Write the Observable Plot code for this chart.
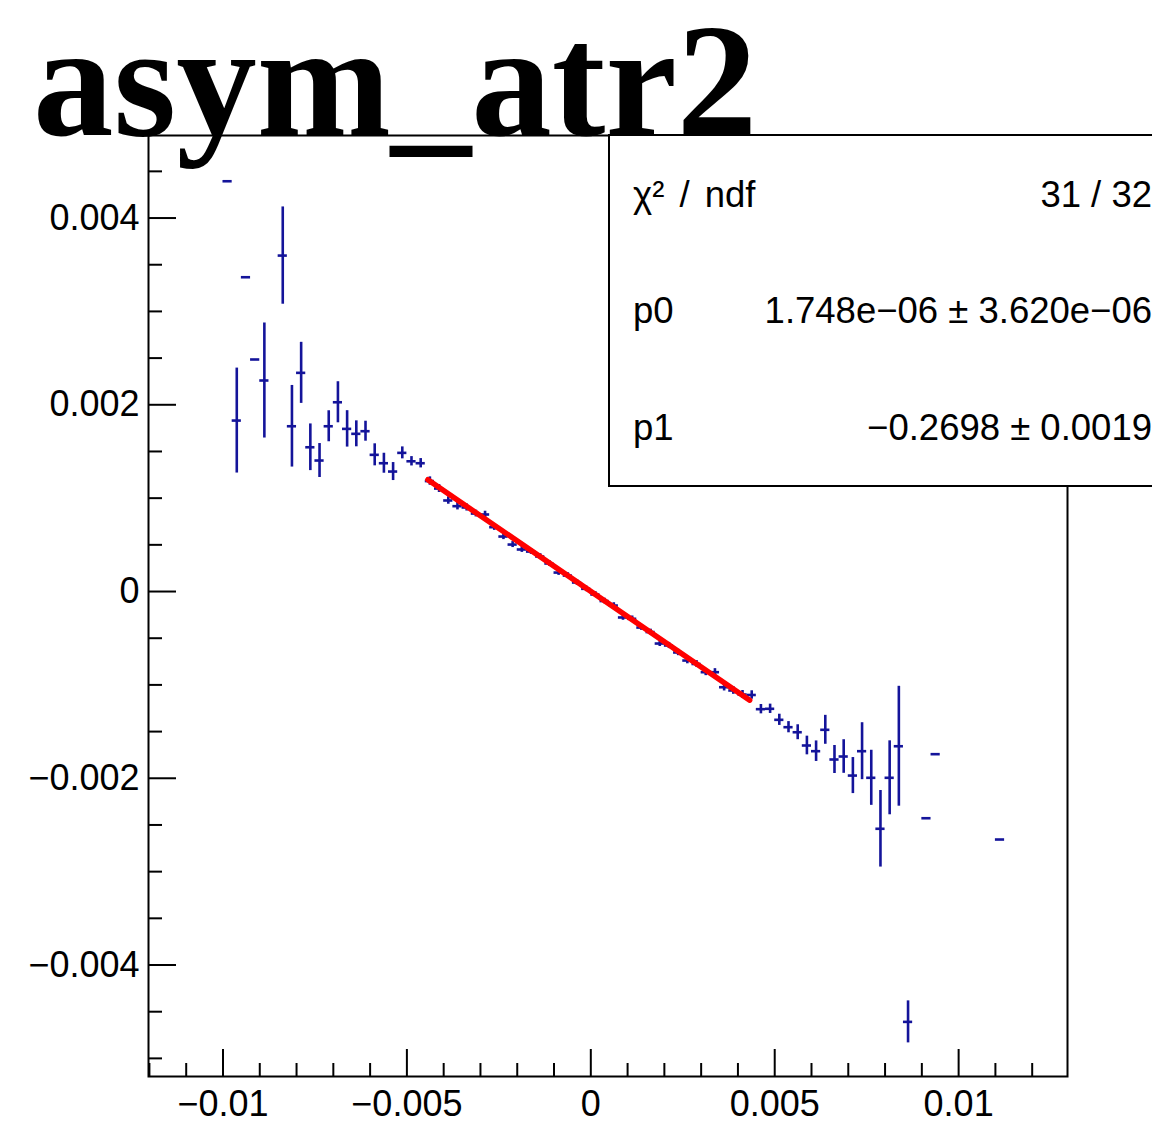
<!DOCTYPE html>
<html>
<head>
<meta charset="utf-8">
<script src="https://cdn.jsdelivr.net/npm/d3@7"></script>
<script src="https://cdn.jsdelivr.net/npm/@observablehq/plot@0.6"></script>
<style>
  html, body { margin: 0; padding: 0; background: #fff; overflow: hidden; }
  #wrap { position: relative; width: 1152px; height: 1144px; overflow: hidden; background: #fff; }
  #wrap > svg { position: absolute; left: 0; top: 0; }
</style>
</head>
<body>
<div id="wrap"></div>
<script>
// ---- Data ----
const title = "asym_atr2";

// bin centres (bin width 0.00025)
const binX = [
  -0.009875, -0.009625, -0.009375, -0.009125, -0.008875,
  -0.008375, -0.008125, -0.007875, -0.007625, -0.007375, -0.007125, -0.006875, -0.006625,
  -0.006375, -0.006125, -0.005875, -0.005625, -0.005375, -0.005125, -0.004875, -0.004625, -0.004375,
  -0.004125, -0.003875, -0.003625, -0.003375, -0.003125, -0.002875, -0.002625, -0.002375, -0.002125,
  -0.001875, -0.001625, -0.001375, -0.001125, -0.000875, -0.000625, -0.000375, -0.000125,
  0.000125, 0.000375, 0.000625, 0.000875, 0.001125, 0.001375, 0.001625, 0.001875, 0.002125,
  0.002375, 0.002625, 0.002875, 0.003125, 0.003375, 0.003625, 0.003875, 0.004125, 0.004375,
  0.004625, 0.004875, 0.005125, 0.005375, 0.005625, 0.005875, 0.006125, 0.006375, 0.006625,
  0.006875, 0.007125, 0.007375, 0.007625, 0.007875, 0.008125, 0.008375, 0.008625,
  0.009125, 0.009375, 0.011125
];
const binY = [
  0.004394, 0.001831, 0.003366, 0.002485, 0.002260,
  0.003598, 0.001770, 0.002342, 0.001545, 0.001403, 0.001770, 0.002027, 0.001742,
  0.001689, 0.001717, 0.001464, 0.001374, 0.001285, 0.001485, 0.001395, 0.001374, 0.001183,
  0.001103, 0.000975, 0.000914, 0.000900, 0.000835, 0.000825, 0.000689, 0.000589, 0.000503,
  0.000450, 0.000428, 0.000375, 0.000300, 0.000203, 0.000171, 0.0000964, 0.0000289,
  -0.0000321, -0.000102, -0.000150, -0.000278, -0.000292, -0.000386, -0.000434, -0.000557, -0.000578,
  -0.000653, -0.000739, -0.000776, -0.000864, -0.000864, -0.001025, -0.001060, -0.001103, -0.001108,
  -0.001260, -0.001256, -0.001374, -0.001453, -0.001507, -0.001649, -0.001710, -0.001481, -0.001799,
  -0.001767, -0.001971, -0.001710, -0.001995, -0.002541, -0.001995, -0.001657, -0.004609,
  -0.002428, -0.001742, -0.002656
];
const binErr = [
  0, 0.000562, 0, 0, 0.000616,
  0.000521, 0.000437, 0.000327, 0.000250, 0.000182, 0.000166, 0.000220, 0.000195,
  0.000139, 0.000107, 0.000118, 0.000107, 0.0000964, 0.000064, 0.000050, 0.000050, 0.000045,
  0.000042, 0.000040, 0.000040, 0.000038, 0.000036, 0.000035, 0.000034, 0.000033, 0.000032,
  0.000031, 0.000030, 0.000030, 0.000030, 0.000030, 0.000030, 0.000030, 0.000030,
  0.000030, 0.000030, 0.000030, 0.000030, 0.000030, 0.000030, 0.000031, 0.000032, 0.000033,
  0.000034, 0.000035, 0.000036, 0.000037, 0.000038, 0.000040, 0.000041, 0.000043, 0.000045,
  0.000050, 0.000050, 0.000060, 0.000060, 0.000080, 0.000100, 0.000110, 0.000155, 0.000150,
  0.000180, 0.000193, 0.000305, 0.000295, 0.000410, 0.000396, 0.000642, 0.000225,
  0, 0, 0
];
const binWidth = 0.00025;

// fitted straight line (pol1), drawn over the fit range
const fitX = [-0.00443, 0.00432];
const fitY = [0.001197, -0.001164];

// stats box
const statLabels = ["χ² / ndf", "p0", "p1"];
const statValues = ["31 / 32", "1.748e−06 ± 3.620e−06", "−0.2698 ± 0.0019"];

// axes
const xDomain = [-0.012025, 0.01296];
const yDomain = [-0.005194, 0.004884];
const xTickValues = [-0.01, -0.005, 0, 0.005, 0.01];
const xTickLabels = ["−0.01", "−0.005", "0", "0.005", "0.01"];
const xMinorTicks = [-0.012, -0.011, -0.009, -0.008, -0.007, -0.006, -0.004, -0.003, -0.002, -0.001,
  0.001, 0.002, 0.003, 0.004, 0.006, 0.007, 0.008, 0.009, 0.011, 0.012];
const yTickValues = [-0.004, -0.002, 0, 0.002, 0.004];
const yTickLabels = ["−0.004", "−0.002", "0", "0.002", "0.004"];
const yMinorTicks = [-0.005, -0.0045, -0.0035, -0.003, -0.0025, -0.0015, -0.001, -0.0005,
  0.0005, 0.001, 0.0015, 0.0025, 0.003, 0.0035, 0.0045];

// ---- Build ----
const points = binX.map((x, i) => ({x, y: binY[i], e: binErr[i]}));
const fit = fitX.map((x, i) => ({x, y: fitY[i]}));
const xLab = new Map(xTickValues.map((v, i) => [v, xTickLabels[i]]));
const yLab = new Map(yTickValues.map((v, i) => [v, yTickLabels[i]]));

const W = 1152, H = 1144, mL = 148, mR = 85, mT = 135, mB = 68;
const iw = W - mL - mR, ih = H - mT - mB;
const blue = "#14149a";
const sans = "'Liberation Sans', Arial, Helvetica, sans-serif";

const chart = Plot.plot({
  width: W, height: H,
  marginLeft: mL, marginRight: mR, marginTop: mT, marginBottom: mB,
  style: {fontFamily: sans, fontSize: "36px", color: "#000", background: "#fff"},
  x: {domain: xDomain, label: null, axis: null},
  y: {domain: yDomain, label: null, axis: null},
  marks: [
    Plot.tickY(yTickValues, {y: d => d, insetRight: iw - 28, stroke: "#000", strokeWidth: 2}),
    Plot.tickY(yMinorTicks, {y: d => d, insetRight: iw - 14, stroke: "#000", strokeWidth: 2}),
    Plot.tickX(xTickValues, {x: d => d, insetTop: ih - 27, stroke: "#000", strokeWidth: 2}),
    Plot.tickX(xMinorTicks, {x: d => d, insetTop: ih - 13, stroke: "#000", strokeWidth: 2}),
    Plot.axisY({ticks: yTickValues, tickFormat: d => yLab.get(d), tickSize: 0, tickPadding: 9, label: null, fontSize: 36}),
    Plot.axisX({ticks: xTickValues, tickFormat: d => xLab.get(d), tickSize: 0, tickPadding: 14, label: null, fontSize: 36}),
    Plot.ruleX(points.filter(d => d.e > 0), {x: "x", y1: d => d.y - d.e, y2: d => d.y + d.e, stroke: blue, strokeWidth: 2.6}),
    Plot.ruleY(points, {y: "y", x1: d => d.x - binWidth / 2, x2: d => d.x + binWidth / 2, stroke: blue, strokeWidth: 2.6}),
    Plot.line(fit, {x: "x", y: "y", stroke: "#ff0000", strokeWidth: 5.5}),
    Plot.frame({stroke: "#000", strokeWidth: 2})
  ]
});
document.getElementById("wrap").appendChild(chart);

// overlay: stats box and title
const ov = d3.select("#wrap").append("svg")
  .attr("width", W).attr("height", H)
  .style("pointer-events", "none");

ov.append("rect")
  .attr("x", 609).attr("y", 135).attr("width", 700).attr("height", 351)
  .attr("fill", "#fff").attr("stroke", "#000").attr("stroke-width", 2);

const rowsY = [207, 323, 440];
statLabels.forEach((t, i) => {
  ov.append("text").attr("x", 633).attr("y", rowsY[i])
    .attr("font-family", sans).attr("font-size", 36.5).attr("fill", "#000")
    .attr("word-spacing", 5).text(t);
  ov.append("text").attr("x", 1152).attr("y", rowsY[i]).attr("text-anchor", "end")
    .attr("font-family", sans).attr("font-size", 36.5).attr("fill", "#000").text(statValues[i]);
});

ov.append("text").attr("x", 33).attr("y", 135)
  .attr("font-family", "'Liberation Serif', 'Times New Roman', serif")
  .attr("font-weight", "bold").attr("font-size", 161).attr("fill", "#000")
  .text(title);
</script>
</body>
</html>
